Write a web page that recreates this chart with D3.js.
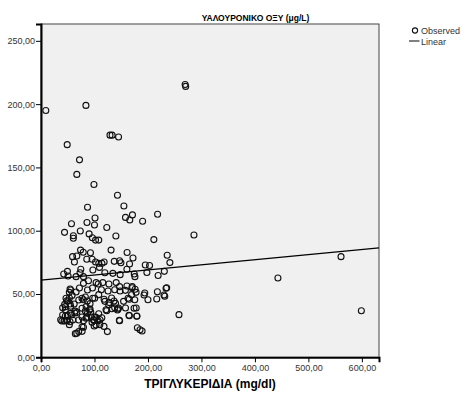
<!DOCTYPE html>
<html>
<head>
<meta charset="utf-8">
<script src="https://cdn.jsdelivr.net/npm/d3@7"></script>
<style>
  body { margin: 0; background: #fff; }
  svg { display: block; font-family: "Liberation Sans", Arial, sans-serif; }
</style>
</head>
<body>
<div id="chart"></div>
<script>
const triglycerides = [
  9, 84, 129, 133, 145, 49, 72, 67, 99, 143, 155, 87, 171, 158, 166, 190, 218, 101, 86, 100,
  57, 123, 44, 73.5, 60.5, 60.5, 90, 96, 102, 108, 140, 211, 286, 269.5, 270.5, 443, 561, 599, 258,
  131, 161, 172, 236, 241, 74, 79, 59, 67, 92.5, 85.6, 95.6, 102, 108, 114, 118, 62.5, 137, 147, 149.4,
  165.6, 195, 203, 198, 230.6, 219, 175.6, 174.4, 160.6, 148, 134.4, 119.4, 109.4, 97, 74.4, 73, 49.4,
  50.6, 42.5, 65.6, 79.4, 88.8, 103, 107, 115.6, 127, 140.6, 147, 160.6, 170.6, 176, 79.4, 235,
  54.3, 53, 46.8, 50.5, 44.3, 112.9, 125.4, 137.8, 147.8, 157.8, 170.3, 177.8, 162.8, 175.3, 192.7,
  136.6, 126.6, 137.8, 144, 100.4, 76.7, 79.2, 82.9, 86.7, 91.7, 96.7, 194, 200, 217.6, 216.4, 230,
  233.8, 231.4, 86.9, 96.3, 71.9, 65.6, 58.1, 62, 54.4, 70.6, 108, 119.4, 132, 154.4, 169.4, 118,
  127.5, 165,
  40.5, 45.5, 55.5, 63, 57, 64.3, 36.8, 43, 48, 54.3, 40.5, 49.3, 39, 53, 45.5, 76.7, 82.9, 91.7,
  94.2, 99.2, 84.2, 76.7, 76.7, 70.5, 64.2, 107.9, 100.4, 110.4, 95.4, 102.9, 117.8, 124.1, 146.5,
  165.2, 179, 174, 180.2, 185.2, 121.6, 132.5, 145, 139.4, 123, 113.7, 66.9, 70.6, 55.6, 59.4, 44.4,
  49.4, 45.6, 48.1, 53.1, 55.6, 84.4, 90.6, 86.9, 93, 85.6, 79.4, 98.1, 103, 106.9, 79.4, 76.9, 66.9,
  178, 164.4, 179.4, 147, 110, 99.4, 143, 158, 189
];
const hyaluronic = [
  195, 199, 175.5, 175.5, 174, 168, 156, 144.5, 136.5, 128, 119.5, 118.5, 112.5, 110.5, 108.5, 107.5, 113, 110, 106.5, 104.5,
  105.5, 102.5, 98.7, 99.8, 96, 94, 97.5, 94.5, 92.6, 92.6, 95.8, 93, 96.6, 215.5, 214, 62.6, 79.5, 36.8, 33.7,
  84.7, 82.8, 78.5, 80.6, 74.8, 84.7, 83, 79.5, 80, 82.6, 77.4, 77.4, 75.3, 74.2, 74.2, 75.3, 75.3, 75.8, 76.3, 74.7,
  73.7, 72.9, 72.5, 67, 67.9, 64.6, 63.7, 65.8, 69.5, 65.3, 66.3, 66.8, 71, 69, 69.5, 66.8, 67.9,
  64.2, 65.8, 63.7, 63.7, 60.5, 59, 57.9, 59, 57.9, 59, 55.8, 56.3, 55.8, 53.7, 58.4, 55,
  54, 51.3, 46.6, 44.5, 41.8, 53.4, 52.4, 53.4, 52.4, 52.9, 55, 51.3, 46.6, 45.5, 49.2,
  44.5, 41.3, 39.2, 38.2, 46.6, 46.6, 45.5, 47.6, 44.5, 42.4, 46.6, 50.8, 45.5, 51.8, 46, 49.2,
  54.5, 48.2, 53.2, 54.7, 54.7, 51.6, 48.9, 42.1, 42.1, 45.3, 49.5, 44.2, 46.8, 44.2, 49.5, 45.8,
  43.2, 45.8,
  39.2, 37.6, 40.3, 35, 33.4, 36.5, 29.7, 28.7, 29.2, 28.1, 33.4, 32.9, 28.7, 25.8, 32.6, 38.7, 36.5, 38.2,
  31.8, 29.7, 30.8, 31.8, 23.9, 20.3, 18.7, 34.4, 31.8, 29.7, 27.6, 25.5, 24.4, 20.3, 29.2,
  32.9, 32.4, 38.7, 23.4, 21.8, 37.6, 38.4, 39, 42.6, 36.8, 31.3, 35.3, 29.5, 34.7, 29.5, 28.9,
  28.9, 40, 44.7, 46.8, 53.2, 40, 37.4, 34.7, 35.8, 31.6, 28.9, 29.5, 31.6, 28.9, 23.7, 20.5, 19,
  39, 33.2, 32.6, 28.9, 25.8, 24.7, 37.4, 39, 20.8
];
const xTicks = [0, 100, 200, 300, 400, 500, 600];
const yTicks = [0, 50, 100, 150, 200, 250];
// linear fit as drawn in the picture
const fitIntercept = 61;
const fitSlope = 0.0403;
const legendLabels = ['Observed', 'Linear'];

const width = 466, height = 393;
const plot = { left: 41, top: 24, right: 379, bottom: 357.3 };
const xMax = 632, yMax = 263.3;

const svg = d3.select('#chart').append('svg')
  .attr('width', width)
  .attr('height', height);

const x = d3.scaleLinear().domain([0, xMax]).range([plot.left, plot.right]);
const y = d3.scaleLinear().domain([0, yMax]).range([plot.bottom, plot.top]);
const fmt = v => d3.format('.2f')(v).replace('.', ',');

// plot background + frame
svg.append('rect')
  .attr('x', plot.left).attr('y', plot.top)
  .attr('width', plot.right - plot.left).attr('height', plot.bottom - plot.top)
  .attr('fill', '#f0f0f0')
  .attr('stroke', '#444')
  .attr('stroke-width', 1);

// axes
const xAxis = svg.append('g')
  .attr('transform', `translate(0,${plot.bottom})`)
  .call(d3.axisBottom(x).tickValues(xTicks).tickFormat(fmt).tickSizeOuter(0).tickSize(5));
const yAxis = svg.append('g')
  .attr('transform', `translate(${plot.left},0)`)
  .call(d3.axisLeft(y).tickValues(yTicks).tickFormat(fmt).tickSizeOuter(0).tickSize(5));

[xAxis, yAxis].forEach(g => {
  g.select('.domain').attr('stroke', '#000').attr('stroke-width', 2);
  g.selectAll('.tick line').attr('stroke', '#000').attr('stroke-width', 1);
  g.selectAll('.tick text')
    .attr('fill', '#333')
    .attr('font-size', '9px')
    .attr('font-family', '"Liberation Sans", Arial, sans-serif');
});
xAxis.selectAll('.tick text').attr('dy', '0.9em').attr('y', 6);
yAxis.selectAll('.tick text').attr('x', -6);

// points
svg.append('g')
  .selectAll('circle')
  .data(triglycerides.map((t, i) => [t, hyaluronic[i]]))
  .join('circle')
  .attr('cx', d => x(d[0]))
  .attr('cy', d => y(d[1]))
  .attr('r', 3)
  .attr('fill', 'none')
  .attr('stroke', '#111')
  .attr('stroke-width', 1.1);

// fit line
svg.append('line')
  .attr('x1', x(0)).attr('y1', y(fitIntercept))
  .attr('x2', x(xMax)).attr('y2', y(fitIntercept + fitSlope * xMax))
  .attr('stroke', '#000')
  .attr('stroke-width', 1.1);

// titles
svg.append('text')
  .attr('x', 255.5).attr('y', 20.5)
  .attr('text-anchor', 'middle')
  .attr('font-size', '8.5px')
  .attr('font-weight', 'bold')
  .text('ΥΑΛΟΥΡΟΝΙΚΟ ΟΞΥ (μg/L)');

svg.append('text')
  .attr('x', (plot.left + plot.right) / 2).attr('y', 388)
  .attr('text-anchor', 'middle')
  .attr('font-size', '12px')
  .attr('font-weight', 'bold')
  .text('ΤΡΙΓΛΥΚΕΡΙΔΙΑ (mg/dl)');

// legend
const legend = svg.append('g').attr('font-size', '9px').attr('fill', '#333');
legend.append('circle')
  .attr('cx', 415).attr('cy', 30.5).attr('r', 2.6)
  .attr('fill', 'none').attr('stroke', '#111').attr('stroke-width', 1.1);
legend.append('line')
  .attr('x1', 409).attr('x2', 419.5).attr('y1', 41).attr('y2', 41)
  .attr('stroke', '#000').attr('stroke-width', 1);
legend.selectAll('text.lbl')
  .data(legendLabels)
  .join('text')
  .attr('class', 'lbl')
  .attr('x', 421)
  .attr('y', (d, i) => 34 + i * 10.5)
  .text(d => d);
</script>
</body>
</html>
